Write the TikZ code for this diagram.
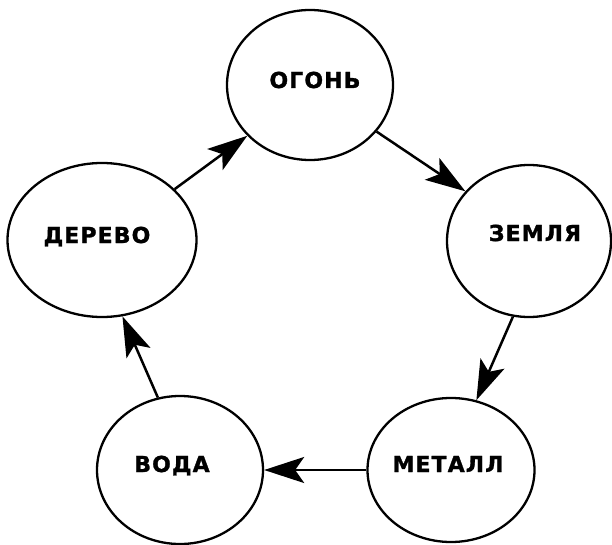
\documentclass[tikz,border=0pt]{standalone}
\usepackage{fontspec}
\newfontfamily\elemfont[LetterSpace=5,BoldFeatures={FakeBold=1.3}]{DejaVu Sans}
\usetikzlibrary{shapes.geometric,arrows.meta}
\begin{document}
\begin{tikzpicture}[x=1pt,y=-1pt,
  element/.style={ellipse,draw,line width=2.3pt,inner sep=0pt},
  caption/.style={anchor=base,inner sep=0pt,font=\elemfont\bfseries\fontsize{22}{22}\selectfont},
  flow/.style={line width=2.5pt,-{Stealth[length=40pt,width=26pt,inset=9pt]}}]
\useasboundingbox (0,0) rectangle (612,545);

% the five elements
\node[element,minimum width=166pt,minimum height=150pt] (ogon)   at (310,85)  {};
\node[element,minimum width=189pt,minimum height=154pt] (derevo) at (102,240) {};
\node[element,minimum width=164pt,minimum height=152pt] (zemlya) at (529,241) {};
\node[element,minimum width=166pt,minimum height=148pt] (voda)   at (180,470) {};
\node[element,minimum width=167pt,minimum height=144pt] (metall) at (451,470) {};

% names
\node[caption] (ogon-t)   at (315,88)  {ОГОНЬ};
\node[caption] (derevo-t) at (97,243)  {ДЕРЕВО};
\node[caption] (zemlya-t) at (535,241) {ЗЕМЛЯ};
\node[caption] (voda-t)   at (172,472) {ВОДА};
\node[caption] (metall-t) at (448,472) {МЕТАЛЛ};

% generating cycle
\draw[flow] (derevo.35)  -- (ogon.219);
\draw[flow] (ogon.-35)   -- (zemlya.142);
\draw[flow] (zemlya.258) -- (metall.70);
\draw[flow] (metall.west) -- (voda.east);
\draw[flow] (voda.107)   -- (derevo.-75);
\end{tikzpicture}
\end{document}
